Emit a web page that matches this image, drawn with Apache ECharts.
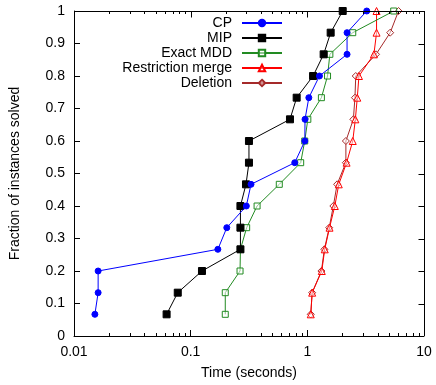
<!DOCTYPE html>
<html><head><meta charset="utf-8">
<script src="https://cdn.jsdelivr.net/npm/echarts@6/dist/echarts.min.js"></script>
<style>html,body{margin:0;padding:0;background:#fff}#c{width:436px;height:385px}</style>
</head><body><div id="c"></div>
<script>
const fractions = [0.0667,0.1333,0.2,0.2667,0.3333,0.4,0.4667,0.5333,0.6,0.6667,0.7333,0.8,0.8667,0.9333,1.0];
const cpTimes = [0.0151,0.0161,0.0161,0.171,0.204,0.300,0.329,0.78,0.952,0.955,1.03,1.27,2.19,2.19,3.23];
const mipTimes = [0.0622,0.0775,0.125,0.267,0.267,0.267,0.298,0.316,0.316,0.71,0.81,1.12,1.38,1.585,2.01];
const exactTimes = [0.198,0.198,0.265,0.267,0.302,0.371,0.575,0.877,0.95,1.01,1.32,1.49,1.56,2.45,5.5];
const restrictTimes = [1.07,1.10,1.33,1.41,1.55,1.72,1.86,2.17,2.45,2.58,2.68,2.77,3.72,3.92,3.92];
const deletionTimes = [1.07,1.10,1.32,1.40,1.54,1.67,1.80,2.14,2.14,2.48,2.56,2.6,3.88,5.13,6.05];
const seriesNames = ['CP','MIP','Exact MDD','Restriction merge','Deletion'];
const minorTicks = [0.02,0.03,0.04,0.05,0.06,0.07,0.08,0.09,0.2,0.3,0.4,0.5,0.6,0.7,0.8,0.9,2,3,4,5,6,7,8,9];
const majorXTicks = [0.1,1];
const yTicks = [0.1,0.2,0.3,0.4,0.5,0.6,0.7,0.8,0.9];

const FONT = 'Liberation Sans, Arial, sans-serif';
const pair = (xs) => xs.map((x,i)=>[x, fractions[i]]);
const crisp = (v) => Math.round(v) + 0.5;

const styles = [
  {color:'#0000ff', symbol:'circle', size:6, fill:'#0000ff'},
  {color:'#000000', symbol:'rect', size:7, fill:'#000000'},
  {color:'#228b22', symbol:'rect', size:6, fill:'rgba(255,255,255,0.5)'},
  {color:'#ff0000', symbol:'triangle', size:7, fill:'rgba(255,255,255,0.5)'},
  {color:'#a52a2a', symbol:'diamond', size:7, fill:'rgba(255,255,255,0.5)'}
];
const allTimes = [cpTimes, mipTimes, exactTimes, restrictTimes, deletionTimes];

const series = seriesNames.map((n,i)=>({
  name:n, type:'line', xAxisIndex:0, yAxisIndex:0,
  data: pair(allTimes[i]),
  symbol: styles[i].symbol, symbolSize: styles[i].size,
  showSymbol:true, animation:false, z: 10 - i,
  lineStyle:{color:styles[i].color, width:1},
  itemStyle:{color:styles[i].fill, borderColor:styles[i].color, borderWidth:1}
}));
const tickLine = (x1,y1,x2,y2) => ({type:'line', shape:{x1,y1,x2,y2}, style:{stroke:'#000', lineWidth:1}});
// minor ticks on bottom and top
series.push({
  type:'custom', xAxisIndex:0, yAxisIndex:0, silent:true, animation:false, clip:false, z:20,
  data: minorTicks.map(v=>[v]),
  renderItem:(params, api)=>{
    const v = api.value(0);
    const b = api.coord([v,0]);
    const t = api.coord([v,1]);
    const x = crisp(b[0]);
    return {type:'group', children:[
      tickLine(x, b[1], x, b[1]-3),
      tickLine(x, t[1], x, t[1]+3)
    ]};
  }
});
// top and right frame with mirrored major ticks
series.push({
  type:'custom', xAxisIndex:0, yAxisIndex:0, silent:true, animation:false, clip:false, z:20,
  data: [[1]],
  renderItem:(params, api)=>{
    const tl = api.coord([0.01,1]);
    const tr = api.coord([10,1]);
    const br = api.coord([10,0]);
    const yTop = crisp(tl[1] - 0.5);
    const xRight = crisp(tr[0] - 0.5);
    const kids = [
      tickLine(tl[0], yTop, xRight + 0.5, yTop),
      tickLine(xRight, yTop, xRight, br[1])
    ];
    majorXTicks.forEach(v=>{
      const p = api.coord([v,1]);
      const x = crisp(p[0]);
      kids.push(tickLine(x, yTop, x, yTop + 6));
    });
    yTicks.forEach(v=>{
      const p = api.coord([10,v]);
      const y = crisp(p[1]);
      kids.push(tickLine(xRight, y, xRight - 6, y));
    });
    return {type:'group', children:kids};
  }
});

const rowTops = [16,31,46,61,76];
const legends = seriesNames.map((n,i)=>({
  data:[n], orient:'vertical', align:'right', right:153, top:rowTops[i],
  padding:0, itemWidth:40, itemHeight:8, itemGap:0, selectedMode:false,
  textStyle:{fontFamily:FONT, fontSize:14, color:'#000', lineHeight:14, padding:[0,5,0,0]}
}));

const option = {
  animation:false,
  grid:{left:74, right:12, top:11, bottom:47},
  legend: legends,
  xAxis:[
    {type:'log', logBase:10, min:0.01, max:10, position:'bottom',
     name:'Time (seconds)', nameLocation:'middle', nameGap:30,
     nameTextStyle:{fontFamily:FONT, fontSize:14, color:'#000'},
     axisLine:{show:true, onZero:false, lineStyle:{color:'#000', width:1}},
     axisTick:{show:true, inside:true, length:6, lineStyle:{color:'#000', width:1}},
     axisLabel:{fontFamily:FONT, fontSize:14, color:'#000', margin:9},
     splitLine:{show:false}}
  ],
  yAxis:[
    {type:'value', min:0, max:1, interval:0.1, position:'left',
     name:'Fraction of instances solved', nameLocation:'middle', nameGap:52, nameRotate:90,
     nameTextStyle:{fontFamily:FONT, fontSize:14, color:'#000'},
     axisLine:{show:true, onZero:false, lineStyle:{color:'#000', width:1}},
     axisTick:{show:true, inside:true, length:6, lineStyle:{color:'#000', width:1}},
     axisLabel:{fontFamily:FONT, fontSize:14, color:'#000', margin:9},
     splitLine:{show:false}}
  ],
  series
};
const chart = echarts.init(document.getElementById('c'), null, {renderer:'canvas'});
chart.setOption(option);
</script></body></html>
